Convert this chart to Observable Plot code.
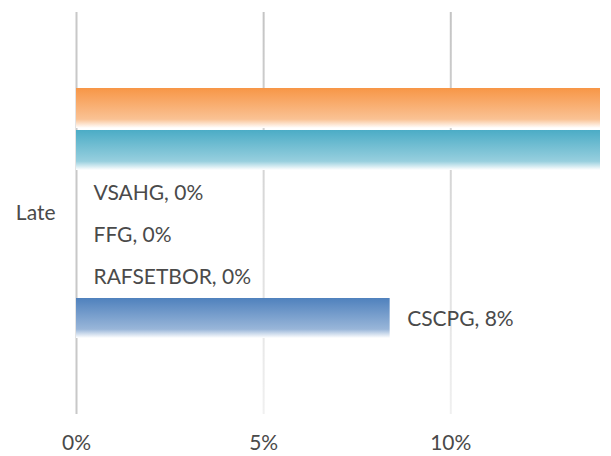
<!DOCTYPE html>
<html><head><meta charset="utf-8">
<script src="https://cdn.jsdelivr.net/npm/d3@7"></script>
<script src="https://cdn.jsdelivr.net/npm/@observablehq/plot@0.6"></script>
<style>body{margin:0;background:#fff}</style>
</head><body><div id="chart"></div>
<script>
const categories = ["Late"];
const seriesNames = ["Series 6", "Series 5", "VSAHG", "FFG", "RAFSETBOR", "CSCPG"];
const seriesValues = [0.17, 0.16, 0, 0, 0, 0.0838];
const seriesColors = ["#F79646", "#4BACC6", "#8064A2", "#9BBB59", "#C0504D", "#4F81BD"];
const xTicks = [0, 0.05, 0.10];
const xTickLabels = ["0%", "5%", "10%"];
const xMax = 0.14;

const data = seriesNames.map((s, i) => ({
  category: categories[0], series: s, value: seriesValues[i], grad: `url(#g${i})`
}));

function defs(index, scales, values, dims) {
  const d = d3.create("svg:defs");
  seriesColors.forEach((c, i) => {
    const g = d.append("linearGradient").attr("id", "g" + i)
      .attr("x1", 0).attr("y1", 0).attr("x2", 0).attr("y2", 1);
    g.append("stop").attr("offset", "0%").attr("stop-color", c);
    g.append("stop").attr("offset", "78%").attr("stop-color", d3.interpolateRgb(c, "#fff")(0.42));
    g.append("stop").attr("offset", "100%").attr("stop-color", "#fff");
  });
  const gg = d.append("linearGradient").attr("id", "gridGrad")
    .attr("gradientUnits", "userSpaceOnUse")
    .attr("x1", 0).attr("x2", 0)
    .attr("y1", dims.marginTop).attr("y2", dims.height - dims.marginBottom);
  gg.append("stop").attr("offset", "0%").attr("stop-color", "#c4c4c4");
  gg.append("stop").attr("offset", "100%").attr("stop-color", "#f0f0f0");
  return d.node();
}

const chart = Plot.plot({
  width: 611,
  height: 456,
  marginLeft: 76,
  marginRight: 11,
  marginTop: 12,
  marginBottom: 42,
  style: {fontFamily: "Lato, sans-serif", fontSize: "21px", color: "#4a4a4a", background: "#fff"},
  x: {domain: [0, xMax], ticks: xTicks, tickFormat: d => xTickLabels[xTicks.indexOf(d)], tickSize: 0, tickPadding: 21, label: null},
  y: {domain: seriesNames, paddingInner: 0.04, paddingOuter: 1.77, axis: null},
  fy: {domain: categories, padding: 0, label: null, tickSize: 0, tickPadding: 21, axis: "left"},
  color: {type: "identity"},
  marks: [
    defs,
    Plot.ruleX(xTicks.slice(1), {stroke: "url(#gridGrad)", strokeWidth: 2}),
    Plot.ruleX([0], {stroke: "#c8c8c8", strokeWidth: 2}),
    Plot.barX(data, {x: "value", y: "series", fy: "category", fill: "grad", clip: true}),
    Plot.text(data.filter(d => d.value <= xMax), {
      x: "value", y: "series", fy: "category",
      text: d => `${d.series}, ${Math.round(d.value * 100)}%`,
      textAnchor: "start", dx: 17, dy: 1, fill: "#4a4a4a"
    })
  ]
});
document.getElementById("chart").append(chart);
</script>
</body></html>
